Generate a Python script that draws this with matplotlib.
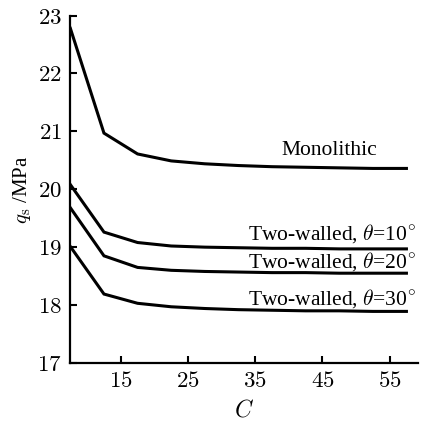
import matplotlib
matplotlib.use('Agg')
import matplotlib.pyplot as plt

plt.rcParams['font.family'] = ['Liberation Serif', 'DejaVu Serif']
plt.rcParams['mathtext.fontset'] = 'cm'

# data
C = [7.5, 12.5, 17.5, 22.5, 27.5, 32.5, 37.5, 42.5, 47.5, 52.5, 57.5]
mono = [22.78, 20.97, 20.61, 20.49, 20.44, 20.41, 20.39, 20.38, 20.37, 20.36, 20.36]
tw10 = [20.08, 19.26, 19.08, 19.02, 19.00, 18.99, 18.98, 18.98, 18.97, 18.97, 18.97]
tw20 = [19.68, 18.85, 18.65, 18.60, 18.58, 18.57, 18.56, 18.56, 18.55, 18.55, 18.55]
tw30 = [19.01, 18.19, 18.03, 17.97, 17.94, 17.92, 17.91, 17.90, 17.90, 17.89, 17.89]

xticks = [15, 25, 35, 45, 55]
yticks = [17, 18, 19, 20, 21, 22, 23]

labels = ['Monolithic',
          r'Two-walled, $\theta$=10$^{\circ}$',
          r'Two-walled, $\theta$=20$^{\circ}$',
          r'Two-walled, $\theta$=30$^{\circ}$']

fig = plt.figure(figsize=(4.29, 4.22), dpi=100)
ax = fig.add_axes([0.164, 0.140, 0.810, 0.823])

for y in [mono, tw10, tw20, tw30]:
    ax.plot(C, y, color='black', lw=2.2, solid_joinstyle='miter')

ax.set_xlim(7.5, 59.2)
ax.set_ylim(17, 23)
ax.set_xticks(xticks)
ax.set_xticklabels(['$%d$' % t for t in xticks])
ax.set_yticks(yticks)
ax.set_yticklabels(['$%d$' % t for t in yticks])
ax.tick_params(direction='in', length=5, width=1.5, labelsize=16.5, pad=6)

for s in ['top', 'right']:
    ax.spines[s].set_visible(False)
for s in ['left', 'bottom']:
    ax.spines[s].set_linewidth(1.6)

ax.set_xlabel('$C$', fontsize=17, labelpad=5)
ax.set_ylabel(r'$q_{\rm s}$ /MPa', fontsize=15, labelpad=3)

# curve labels
ax.text(46.1, 20.59, labels[0], ha='center', va='baseline', fontsize=15.5)
ax.text(58.9, 19.13, labels[1], ha='right', va='baseline', fontsize=15.5)
ax.text(58.9, 18.64, labels[2], ha='right', va='baseline', fontsize=15.5)
ax.text(58.9, 18.00, labels[3], ha='right', va='baseline', fontsize=15.5)

fig.savefig('out.png', dpi=100)
